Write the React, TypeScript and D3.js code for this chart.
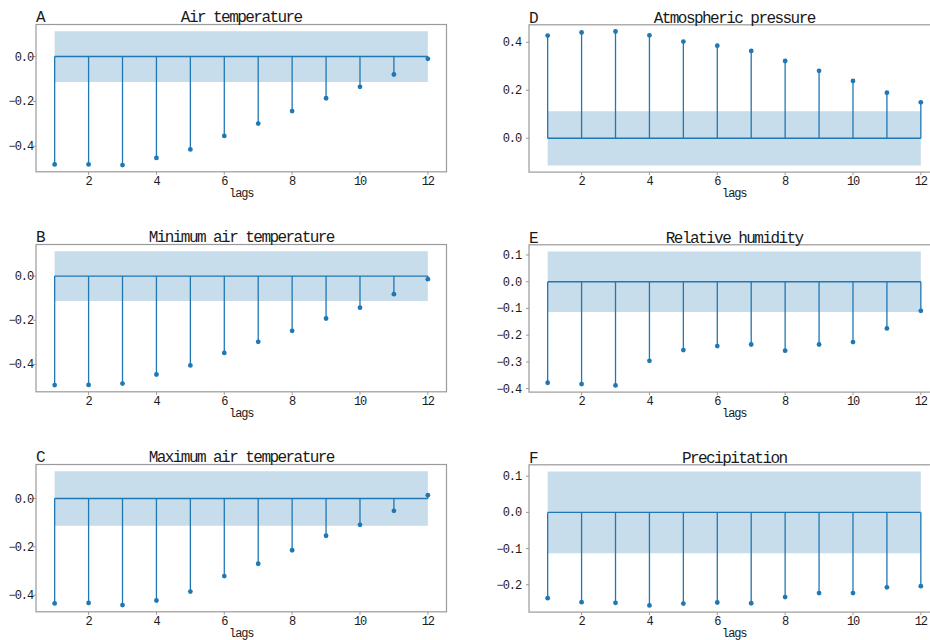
import React from "react";
import * as d3 from "d3";

const lags = [1, 2, 3, 4, 5, 6, 7, 8, 9, 10, 11, 12];
const xTicks = [2, 4, 6, 8, 10, 12];

const airTemp = [-0.481, -0.481, -0.484, -0.452, -0.414, -0.354, -0.299, -0.243, -0.186, -0.135, -0.080, -0.010];
const minAirTemp = [-0.494, -0.493, -0.487, -0.446, -0.405, -0.348, -0.298, -0.248, -0.192, -0.143, -0.082, -0.014];
const maxAirTemp = [-0.434, -0.432, -0.441, -0.422, -0.385, -0.321, -0.270, -0.214, -0.154, -0.109, -0.051, 0.014];
const pressure = [0.428, 0.441, 0.445, 0.429, 0.403, 0.386, 0.364, 0.322, 0.281, 0.239, 0.190, 0.150];
const humidity = [-0.378, -0.383, -0.388, -0.296, -0.256, -0.241, -0.235, -0.258, -0.235, -0.226, -0.175, -0.109];
const precip = [-0.237, -0.248, -0.250, -0.257, -0.252, -0.249, -0.251, -0.234, -0.223, -0.223, -0.207, -0.204];

const confBand = 0.113;

const titles = ["Air temperature", "Minimum air temperature", "Maximum air temperature", "Atmospheric pressure", "Relative humidity", "Precipitation"];
const letters = ["A", "B", "C", "D", "E", "F"];
const series = [airTemp, minAirTemp, maxAirTemp, pressure, humidity, precip];
const yTicksList = [
  [0, -0.2, -0.4],
  [0, -0.2, -0.4],
  [0, -0.2, -0.4],
  [0.4, 0.2, 0],
  [0.1, 0, -0.1, -0.2, -0.3, -0.4],
  [0.1, 0, -0.1, -0.2],
];

const FONT = "'Liberation Mono', 'DejaVu Sans Mono', monospace";
const BLUE = "#1f77b4";
const FRAME = "#9a9a9a";
const INK = "#1a1a1a";

const fmt = (v: number) => {
  const s = Math.abs(v).toFixed(1);
  return v < -1e-9 ? "\u2212" + s : s;
};

function Panel({ idx, left, top }: { idx: number; left: number; top: number }) {
  const w = 410.5;
  const h = 147.3;
  const data = series[idx];
  const lo = Math.min(d3.min(data)!, -confBand);
  const hi = Math.max(d3.max(data)!, confBand);
  const m = (hi - lo) * 0.05;
  const y = d3.scaleLinear().domain([lo - m, hi + m]).range([top + h, top]);
  const x = d3.scaleLinear().domain([0.45, 12.55]).range([left, left + w]);
  const isRight = idx >= 3;
  const labelGap = isRight ? 8 : 3;
  const area = d3
    .area<number>()
    .x((d) => x(d))
    .y0(() => y(-confBand))
    .y1(() => y(confBand));
  const tickProps = { fontSize: 12, letterSpacing: -1.1, fontFamily: FONT, fill: INK };
  return (
    <g>
      <path d={area(lags) || ""} fill={BLUE} fillOpacity={0.25} stroke="none" />
      <line x1={x(1)} x2={x(12)} y1={y(0)} y2={y(0)} stroke={BLUE} strokeWidth={1.4} />
      {lags.map((l, i) => (
        <line key={"s" + i} x1={x(l)} x2={x(l)} y1={y(0)} y2={y(data[i])} stroke={BLUE} strokeWidth={1.3} />
      ))}
      {lags.map((l, i) => (
        <circle key={"c" + i} cx={x(l)} cy={y(data[i])} r={2.4} fill={BLUE} />
      ))}
      <rect x={left} y={top} width={w} height={h} fill="none" stroke={FRAME} strokeWidth={1.2} />
      {xTicks.map((t) => (
        <g key={"x" + t}>
          <line x1={x(t)} x2={x(t)} y1={top + h} y2={top + h + 3} stroke={FRAME} strokeWidth={1} />
          <text x={x(t)} y={top + h + 13.2} textAnchor="middle" {...tickProps}>
            {t}
          </text>
        </g>
      ))}
      {yTicksList[idx].map((t) => (
        <g key={"y" + t}>
          <line x1={left} x2={left - 3} y1={y(t)} y2={y(t)} stroke={FRAME} strokeWidth={1} />
          <text x={left - labelGap} y={y(t) + 4} textAnchor="end" {...tickProps}>
            {fmt(t)}
          </text>
        </g>
      ))}
      <text x={left + w / 2} y={top + h + 24.8} textAnchor="middle" {...tickProps}>
        lags
      </text>
      <text x={left + w / 2} y={top - 2.3} textAnchor="middle" fontSize={16} letterSpacing={-1.55} fontFamily={FONT} fill={INK}>
        {titles[idx]}
      </text>
      <text x={left} y={top - 2.3} textAnchor="start" fontSize={16} fontFamily={FONT} fill={INK}>
        {letters[idx]}
      </text>
    </g>
  );
}

export default function App() {
  const lefts = [36, 36, 36, 529, 529, 529];
  const tops = [24.5, 244.5, 464.5, 24.8, 244.8, 464.8];
  return (
    <div style={{ position: "absolute", left: 0, top: 0, width: 930, height: 640, background: "#fff" }}>
      <svg width={930} height={640} style={{ display: "block" }}>
        <rect width={930} height={640} fill="#fff" />
        {series.map((_, i) => (
          <Panel key={i} idx={i} left={lefts[i]} top={tops[i]} />
        ))}
      </svg>
    </div>
  );
}
